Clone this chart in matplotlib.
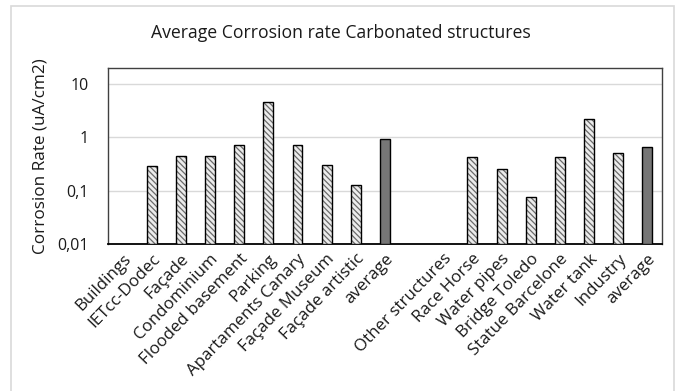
import numpy as np
import matplotlib
matplotlib.use("Agg")
from matplotlib import pyplot as plt
from matplotlib.patches import Rectangle

plt.rcParams['font.family'] = ['Open Sans', 'DejaVu Sans']
plt.rcParams['hatch.linewidth'] = 0.9

categories = ['Buildings', 'IETcc-Dodec', 'Façade', 'Condominium', 'Flooded basement',
              'Parking', 'Apartaments Canary', 'Façade Museum', 'Façade artistic', 'average',
              '', 'Other structures', 'Race Horse', 'Water pipes', 'Bridge Toledo',
              'Statue Barcelone', 'Water tank', 'Industry', 'average']
# nan = header / spacer rows with no bar
rates = [np.nan, 0.28, 0.43, 0.43, 0.71, 4.6, 0.71, 0.29, 0.12, 0.93,
         np.nan, np.nan, 0.41, 0.245, 0.066, 0.42, 2.24, 0.50, 0.64]
is_average = [False, False, False, False, False, False, False, False, False, True,
              False, False, False, False, False, False, False, False, True]

ytick_vals = [0.01, 0.1, 1, 10]
ytick_labels = ['0,01', '0,1', '1', '10']

fig = plt.figure(figsize=(6.81, 3.91), dpi=100)
ax = fig.add_axes([0.1586, 0.376, 0.8134, 0.45])

# light frame round the whole chart
fig.patches.append(Rectangle((11/681, -0.05), (674-11)/681, 1.05 - 6/391,
                             transform=fig.transFigure, fill=False,
                             edgecolor='#d9d9d9', linewidth=1.2))

x = np.arange(len(categories))
w = 0.34
for xi, v, avg in zip(x, rates, is_average):
    if np.isnan(v):
        continue
    if avg:
        ax.bar(xi, v, w, bottom=0.01, color='#767676', edgecolor='black', linewidth=1.0, zorder=3)
    else:
        ax.bar(xi, v, w, bottom=0.01, color='#ececec', edgecolor='#6a6a6a',
               hatch='\\\\\\\\\\\\', linewidth=0, zorder=3)
        ax.bar(xi, v, w, bottom=0.01, fill=False, edgecolor='black', linewidth=1.0, zorder=4)

ax.set_yscale('log')
ax.set_ylim(0.01, 20)
ax.set_xlim(-0.5, len(categories) - 0.5)
ax.yaxis.set_major_locator(matplotlib.ticker.FixedLocator(ytick_vals))
ax.yaxis.set_major_formatter(matplotlib.ticker.FixedFormatter(ytick_labels))
ax.yaxis.set_minor_locator(matplotlib.ticker.NullLocator())
ax.grid(axis='y', color='#d9d9d9', linewidth=1.0, zorder=0)
ax.set_axisbelow(True)

ax.set_xticks(x)
ax.set_xticklabels(categories, rotation=46, ha='right', rotation_mode='anchor')
ax.tick_params(axis='both', length=0, colors='#1a1a1a')
ax.tick_params(axis='x', pad=5, labelsize=12.2)
ax.tick_params(axis='y', pad=14, labelsize=11.5)

for s in ['top', 'right', 'left']:
    ax.spines[s].set_color('#404040')
    ax.spines[s].set_linewidth(1.0)
ax.spines['bottom'].set_color('black')
ax.spines['bottom'].set_linewidth(1.3)

ax.set_ylabel('Corrosion Rate (uA/cm2)', fontsize=12.3, color='#1a1a1a', labelpad=6)
fig.text(0.5, 1 - 33/391, 'Average Corrosion rate Carbonated structures',
         ha='center', va='center', fontsize=12.7, color='#1a1a1a')

plt.savefig('out.png', dpi=100)
